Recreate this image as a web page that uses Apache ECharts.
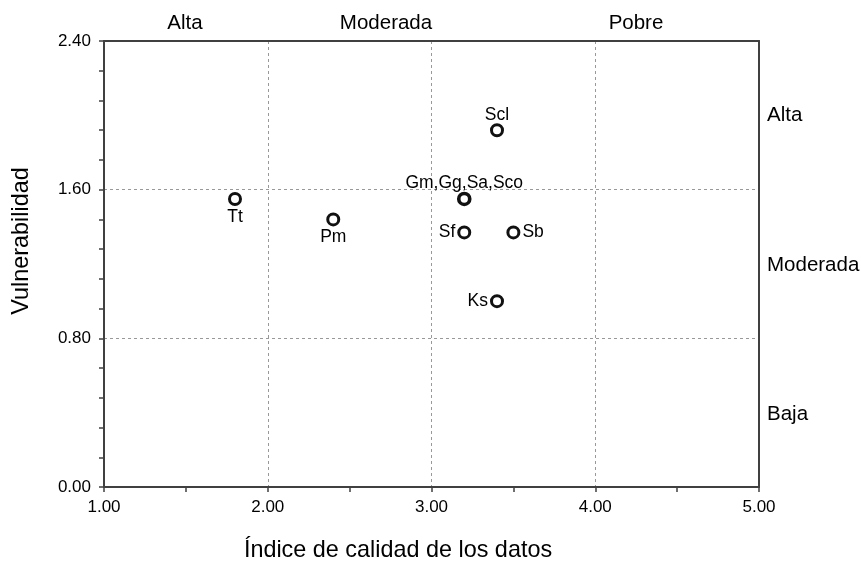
<!DOCTYPE html>
<html><head><meta charset="utf-8">
<script src="https://cdn.jsdelivr.net/npm/echarts@6/dist/echarts.min.js"></script>
<style>html,body{margin:0;padding:0;background:#fff}#c{width:861px;height:569px}</style>
</head><body><div id="c"></div>
<script>
const names = ['Tt','Pm','Gm,Gg,Sa,Sco','Scl','Sf','Sb','Ks'];
const xValues = [1.8, 2.4, 3.2, 3.4, 3.2, 3.5, 3.4];
const yValues = [1.55, 1.44, 1.55, 1.92, 1.37, 1.37, 1.00];
const labelPos = ['bottom','bottom','top','top','left','right','left'];
const topLabels = ['Alta','Moderada','Pobre'];
const rightLabels = ['Alta','Moderada','Baja'];
const xTitle = 'Índice de calidad de los datos';
const yTitle = 'Vulnerabilidad';

const FONT = '"Liberation Sans", Arial, sans-serif';
const chart = echarts.init(document.getElementById('c'), null, {renderer:'canvas'});
const axisCol = '#404040';
const topX = [185, 386, 636];
const rightY = [115, 265, 414];
const graphics = [];
topLabels.forEach((t,i)=>graphics.push({type:'text', x:topX[i], y:23, z:100, style:{text:t, font:'20.5px '+FONT, fill:'#000', textAlign:'center', textVerticalAlign:'middle'}}));
rightLabels.forEach((t,i)=>graphics.push({type:'text', x:767, y:rightY[i], z:100, style:{text:t, font:'20.5px '+FONT, fill:'#000', textAlign:'left', textVerticalAlign:'middle'}}));
graphics.push({type:'text', x:398, y:551, z:100, style:{text:xTitle, font:'23.4px '+FONT, fill:'#000', textAlign:'center', textVerticalAlign:'middle'}});
graphics.push({type:'text', x:22, y:241, rotation:Math.PI/2, z:100, style:{text:yTitle, font:'23.4px '+FONT, fill:'#000', textAlign:'center', textVerticalAlign:'middle'}});

chart.setOption({
  animation:false,
  grid:{left:104, right:102, top:41, bottom:82, show:false},
  xAxis:[{type:'value', min:1, max:5, interval:1, position:'bottom',
    axisLine:{show:true, onZero:false, lineStyle:{color:axisCol, width:2}},
    axisTick:{show:true, inside:false, length:5, lineStyle:{color:axisCol, width:1.5}},
    minorTick:{show:true, splitNumber:2, length:5, lineStyle:{color:axisCol, width:1.5}},
    axisLabel:{color:'#000', fontFamily:FONT, fontSize:17, margin:12, formatter:v=>v.toFixed(2)},
    splitLine:{show:true, showMinLine:false, showMaxLine:false, lineStyle:{color:'#999', type:[3,3], width:1}}},
   {type:'value', min:1, max:5, position:'top',
    axisLine:{show:true, onZero:false, lineStyle:{color:axisCol, width:2}},
    axisTick:{show:false}, axisLabel:{show:false}, splitLine:{show:false}}],
  yAxis:[{type:'value', min:0, max:2.4, interval:0.8, position:'left',
    axisLine:{show:true, onZero:false, lineStyle:{color:axisCol, width:2}},
    axisTick:{show:true, inside:false, length:5, lineStyle:{color:axisCol, width:1.5}},
    minorTick:{show:true, splitNumber:5, length:5, lineStyle:{color:axisCol, width:1.5}},
    axisLabel:{color:'#000', fontFamily:FONT, fontSize:17, margin:13, formatter:v=>v.toFixed(2)},
    splitLine:{show:true, showMinLine:false, showMaxLine:false, lineStyle:{color:'#999', type:[3,3], width:1}}},
   {type:'value', min:0, max:2.4, position:'right',
    axisLine:{show:true, onZero:false, lineStyle:{color:axisCol, width:2}},
    axisTick:{show:false}, axisLabel:{show:false}, splitLine:{show:false}}],
  graphic:graphics,
  series:[{type:'scatter', symbol:'circle', symbolSize:11, z:5,
    itemStyle:{color:'#fff', borderColor:'#111', borderWidth:3, opacity:1},
    label:{show:true, fontFamily:FONT, fontSize:17.5, color:'#000', distance:2, formatter:p=>p.data.name},
    data:names.map((n,i)=>{
      const p = labelPos[i];
      return {name:n, value:[xValues[i], yValues[i]],
        itemStyle:n.indexOf(',')>=0?{borderWidth:3.6}:undefined,
        label:{position:p, distance:2, offset:p==='top'?[0,3]:[0,0]}};
    })
  }]
});
</script></body></html>
